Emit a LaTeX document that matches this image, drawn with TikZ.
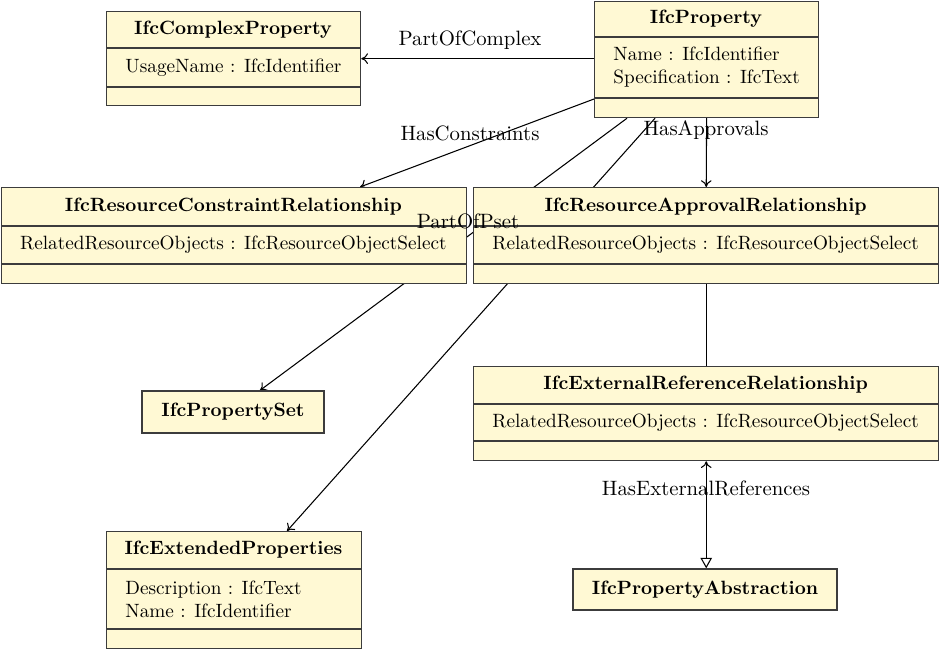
\documentclass[tikz,border=0pt]{standalone}
\usetikzlibrary{arrows.meta,backgrounds}
\definecolor{boxfill}{RGB}{255,249,212}
\definecolor{boxline}{RGB}{60,60,60}
\tikzset{
 classbox/.style={draw=boxline, fill=boxfill, line width=0.65pt, inner sep=0pt, anchor=north west},
 simplebox/.style={draw=boxline, fill=boxfill, line width=0.65pt, inner sep=0pt, font=\bfseries},
 title/.style={font=\bfseries, inner sep=0pt},
 attr/.style={anchor=west, align=left, inner sep=0pt},
 divider/.style={draw=boxline, line width=0.55pt},
 assoc/.style={line width=0.55pt, -{To[length=3.5pt,width=5.5pt]}},
 plainline/.style={line width=0.55pt},
 lbl/.style={font=\fontsize{10.8}{13}\selectfont, inner sep=0pt},
}
\newcommand{\umlclass}[9]{%
 \node[classbox, minimum width={(#4-#2)*0.52pt}, minimum height={(#7-#3)*0.52pt}] (#1) at (#2,#3) {};
 \draw[divider] (#2,#5) -- (#4,#5);
 \draw[divider] (#2,#6) -- (#4,#6);
 \node[title] (#1-t) at ({(#2+#4)/2},{(#3+#5)/2}) {#8};
 \node[attr] (#1-a) at ({#2+19},{(#5+#6)/2}) {#9};
}
\begin{document}
\begin{tikzpicture}[x=0.52pt,y=-0.52pt]
\useasboundingbox (0,0) rectangle (939,649);
% classes
\umlclass{cplx}{106}{11}{360}{48}{87}{105}{IfcComplexProperty}{UsageName : IfcIdentifier}
\umlclass{prop}{594}{0.8}{818}{37}{98}{117}{IfcProperty}{Name : IfcIdentifier\\Specification : IfcText}
\umlclass{rcr}{0.8}{187}{466}{226}{264}{283}{IfcResourceConstraintRelationship}{RelatedResourceObjects : IfcResourceObjectSelect}
\umlclass{rar}{473}{187}{938.2}{226}{264}{283}{IfcResourceApprovalRelationship}{RelatedResourceObjects : IfcResourceObjectSelect}
\umlclass{err}{473}{366}{938.2}{404}{441}{460}{IfcExternalReferenceRelationship}{RelatedResourceObjects : IfcResourceObjectSelect}
\umlclass{ext}{106}{531}{361}{569}{629}{648.2}{IfcExtendedProperties}{Description : IfcText\\Name : IfcIdentifier}
\node[simplebox, minimum width={182*0.52pt}, minimum height={42*0.52pt}] (pset) at (233,412) {IfcPropertySet};
\node[simplebox, minimum width={264*0.52pt}, minimum height={41*0.52pt}] (abs) at (705,589.5) {IfcPropertyAbstraction};
% connectors (behind the boxes)
\begin{scope}[on background layer]
\draw[assoc] (prop.west |- cplx.east) -- (cplx.east);
\draw[assoc] (prop.west |- 0,99) -- (rcr.north -| 360,0);
\draw[assoc] (prop.south) -- (rar.north);
\draw[assoc] (prop.south -| 627,0) -- (pset.north -| 260,0);
\draw[assoc] (prop.south -| 655,0) -- (ext.north -| 287,0);
\draw[plainline] (rar.south) -- (err.north);
\draw[line width=0.55pt, {To[length=3.5pt,width=5.5pt]}-{Triangle[open,length=5.5pt,width=6pt]}] (err.south) -- (abs.north -| err.south);
\end{scope}
% labels
\node[lbl] (l1) at (470,40) {PartOfComplex};
\node[lbl] (l2) at (470,133) {HasConstraints};
\node[lbl] (l3) at (706,130) {HasApprovals};
\node[lbl] (l4) at (468,221) {PartOfPset};
\node[lbl] (l5) at (706,488) {HasExternalReferences};
\end{tikzpicture}
\end{document}
